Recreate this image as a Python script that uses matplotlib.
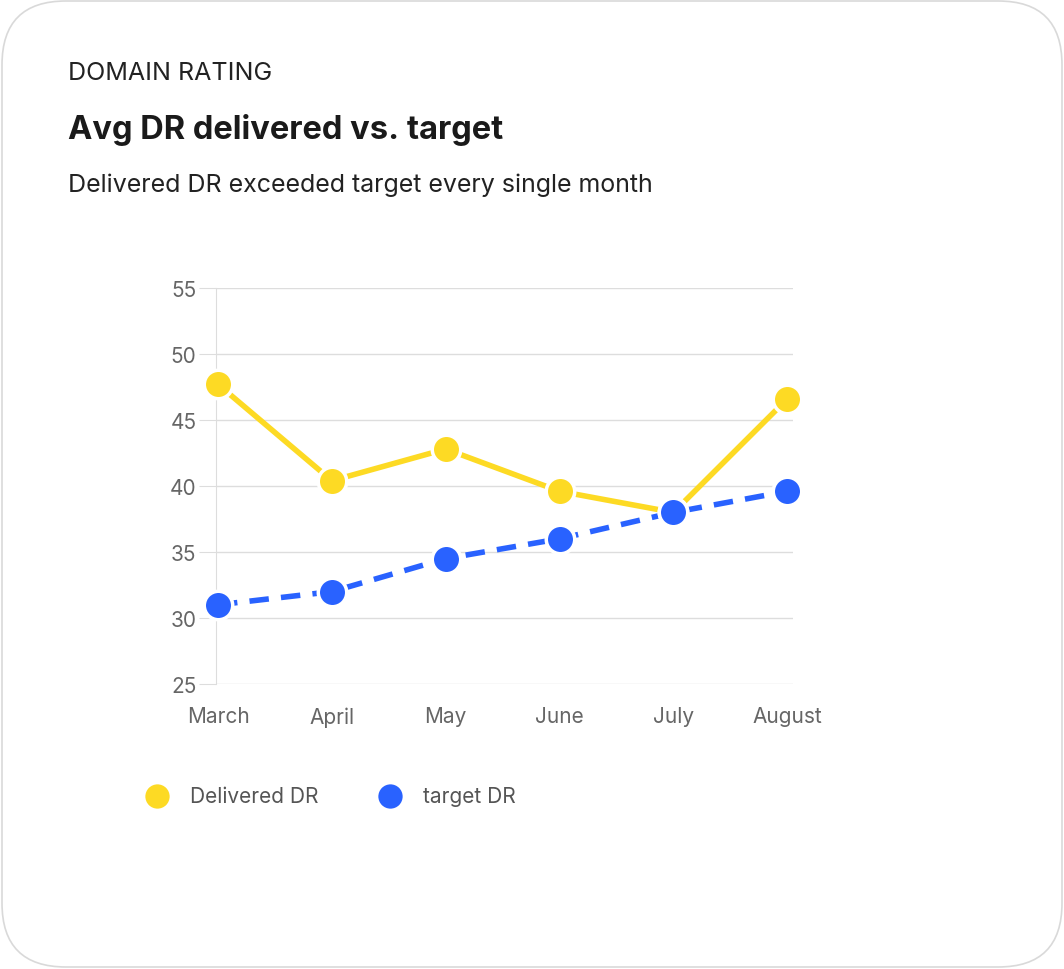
import matplotlib
matplotlib.use('Agg')
import matplotlib.pyplot as plt
from matplotlib.patches import FancyBboxPatch

months = ['March', 'April', 'May', 'June', 'July', 'August']
delivered = [47.7, 40.4, 42.8, 39.6, 38.0, 46.6]
target = [31.0, 32.0, 34.5, 36.0, 38.0, 39.6]
yticks = [25, 30, 35, 40, 45, 50, 55]

YELLOW = '#FDDA24'
BLUE = '#2962FF'
W, H = 1064, 970

plt.rcParams['font.family'] = ['Inter', 'DejaVu Sans']
fig = plt.figure(figsize=(W / 100, H / 100), dpi=100)
fig.patch.set_facecolor('white')

card = FancyBboxPatch((2 / W, 2 / H), (W - 4) / W, (H - 4) / H,
                      boxstyle='round,pad=0,rounding_size=0.06',
                      transform=fig.transFigure, facecolor='white',
                      edgecolor='#d9d9d9', lw=1.2, mutation_aspect=W / H, zorder=-5)
fig.patches.append(card)

fig.text(68 / W, 1 - 73 / H, 'DOMAIN RATING', fontsize=18, color='#222222', va='center')
fig.text(68 / W, 1 - 130 / H, 'Avg DR delivered vs. target', fontsize=23.5,
         fontweight='bold', color='#1a1a1a', va='center')
fig.text(68 / W, 1 - 185 / H, 'Delivered DR exceeded target every single month',
         fontsize=18, color='#222222', va='center')

ax = fig.add_axes([216 / W, 1 - 685 / H, 577 / W, 396 / H])
ax.patch.set_alpha(0)
x = list(range(len(months)))
ax.plot(x, delivered, color=YELLOW, lw=4, zorder=3)
ax.plot(x, target, color=BLUE, lw=4, ls=(0, (3.5, 2.2)), zorder=3)
ax.scatter(x, delivered, s=420, color=YELLOW, edgecolor='white', lw=2.5, zorder=4, clip_on=False)
ax.scatter(x, target, s=420, color=BLUE, edgecolor='white', lw=2.5, zorder=4, clip_on=False)

ax.set_xlim(-0.018, 5.05)
ax.set_ylim(25, 55)
ax.set_yticks(yticks)
ax.set_xticks(x)
ax.set_xticklabels(months)
ax.grid(axis='y', color='#dddddd', lw=1)
ax.set_axisbelow(True)
for s in ['top', 'right', 'bottom']:
    ax.spines[s].set_visible(False)
ax.spines['left'].set_color('#dddddd')
ax.tick_params(axis='y', length=12, color='#dddddd', labelsize=15, labelcolor='#666666', pad=2)
ax.tick_params(axis='x', length=0, labelsize=15, labelcolor='#666666', pad=16)

for mx, label, color in [(157, 'Delivered DR', YELLOW), (390, 'target DR', BLUE)]:
    fig.lines.append(plt.Line2D([mx / W], [1 - 797 / H], marker='o', markersize=20,
                                color=color, markeredgecolor='white', markeredgewidth=2.5,
                                transform=fig.transFigure))
    fig.text((mx + 33) / W, 1 - 797 / H, label, fontsize=15, color='#555555', va='center')

fig.savefig('out.png', dpi=100)
